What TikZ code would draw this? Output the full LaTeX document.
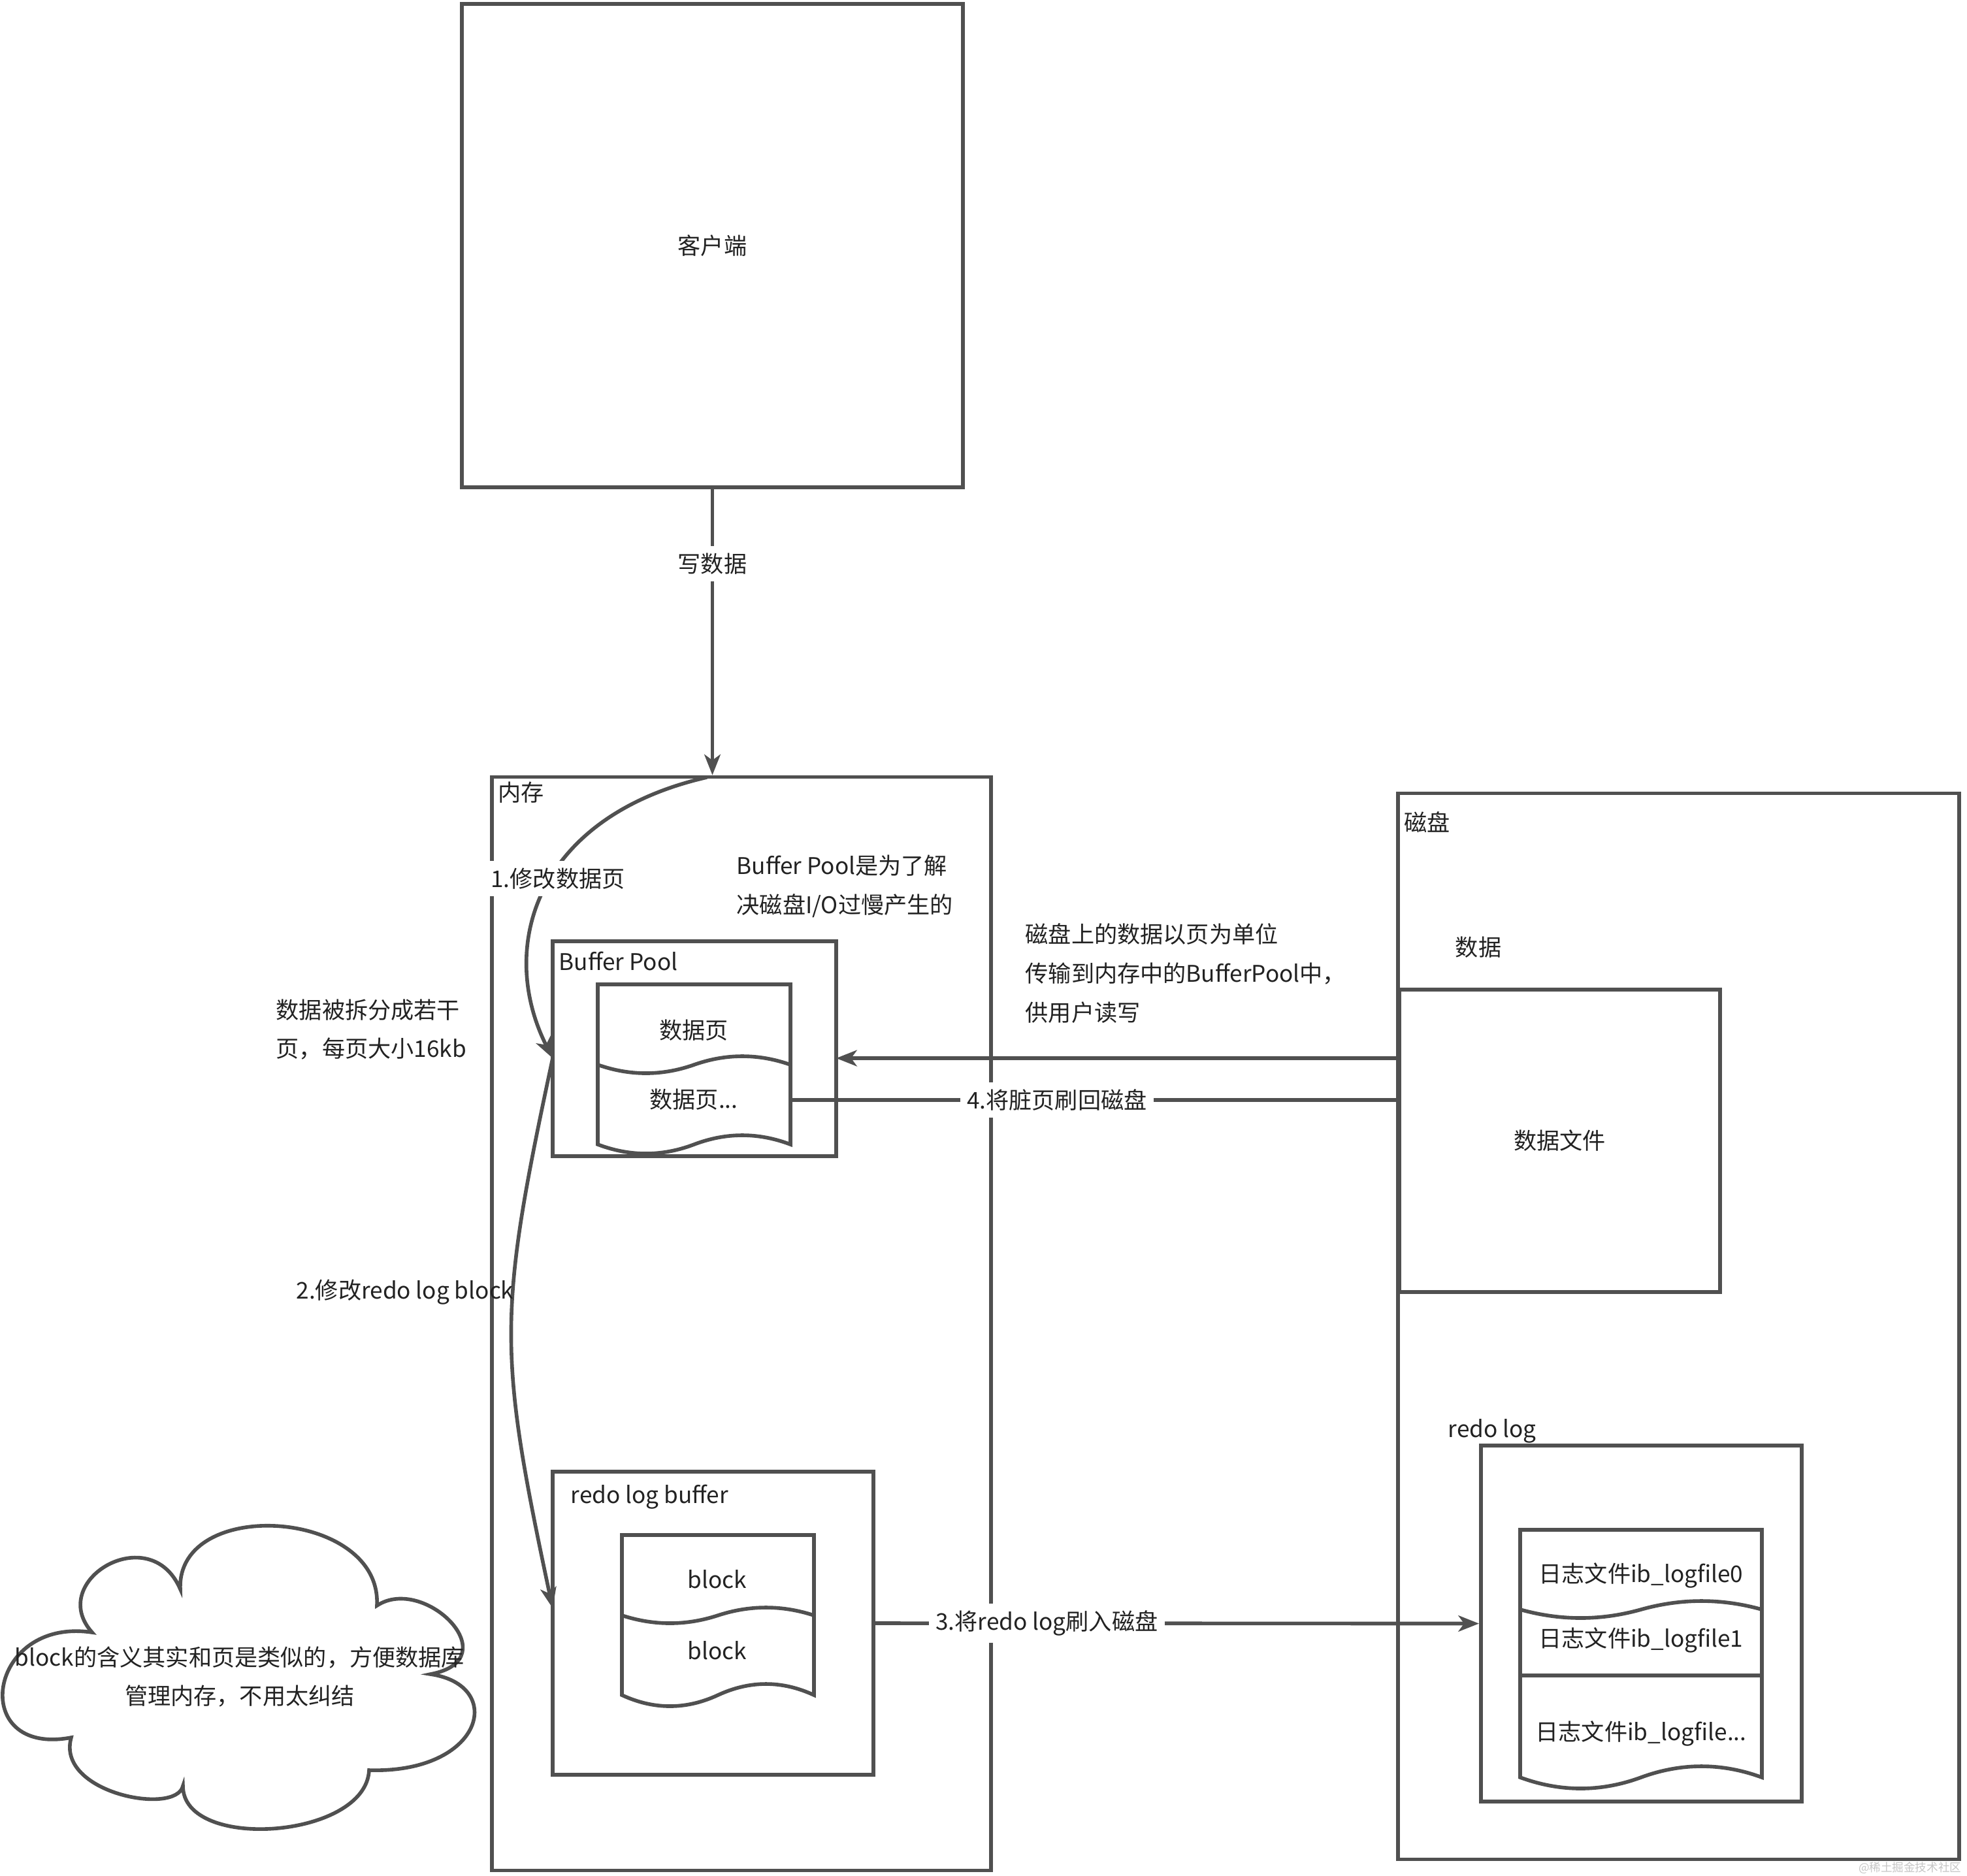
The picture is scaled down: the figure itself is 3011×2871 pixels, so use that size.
\documentclass[tikz,border=0pt]{standalone}
\usepackage{fontspec}
\setmainfont{Noto Sans CJK SC}
\usepackage{tikz}
\usetikzlibrary{arrows.meta}
\usetikzlibrary{positioning}
\usetikzlibrary{calc}
\definecolor{edgegray}{HTML}{505050}
\definecolor{inkgray}{HTML}{222222}
\tikzstyle{box}=[rectangle,draw=edgegray,line width=1.6pt,inner sep=0pt,text=inkgray,font=\fontsize{10pt}{17pt}\selectfont]
\tikzstyle{txt}=[inner sep=0pt,text=inkgray,font=\fontsize{10pt}{17pt}\selectfont]
\tikzstyle{lbl}=[txt,fill=white,inner sep=3pt]
\tikzstyle{conn}=[draw=edgegray,line width=1.6pt]
\tikzstyle{arr}=[conn,-{Stealth[length=9pt,width=7pt,inset=2.5pt]}]
% page shape with a wavy lower edge: left, right, top, wave line, depth
\newcommand*{\docpage}[5]{
\draw[conn,fill=white] (#1,#4) .. controls ({#1+(#2-#1)/6},{#4+4*#5/3}) and ({#1+(#2-#1)/3},{#4+4*#5/3}) .. ({(#1+#2)/2},#4) .. controls ({#1+2*(#2-#1)/3},{#4-4*#5/3}) and ({#1+5*(#2-#1)/6},{#4-4*#5/3}) .. (#2,#4) -- (#2,#3) -- (#1,#3) -- cycle;
}
% wavy divider: left, right, wave line, depth
\newcommand*{\docsplit}[4]{
\draw[conn] (#1,#3) .. controls ({#1+(#2-#1)/6},{#3+4*#4/3}) and ({#1+(#2-#1)/3},{#3+4*#4/3}) .. ({(#1+#2)/2},#3) .. controls ({#1+2*(#2-#1)/3},{#3-4*#4/3}) and ({#1+5*(#2-#1)/6},{#3-4*#4/3}) .. (#2,#3);
}

\begin{document}
\begin{tikzpicture}[x=0.01cm,y=-0.01cm]
\path[use as bounding box,fill=white] (0,0) rectangle (3011,2871);

%client
\node[box, minimum width=7.67cm, minimum height=7.40cm] (client) at (1090.5,376) {客户端};

%memory
\node[box, minimum width=7.64cm, minimum height=16.73cm] (mem) at (1135,2026.5) {};
\node[txt, anchor=west] (memtitle) at (762,1213) {内存};
\node[box, minimum width=4.34cm, minimum height=3.29cm] (bufpool) at (1063,1605.5) {};
\node[txt, anchor=west] (bptitle) at (855,1471) {Buffer Pool};
\node[box, minimum width=4.91cm, minimum height=4.64cm] (redobuf) at (1091.5,2485) {};
\node[txt, anchor=west] (rbtitle) at (873,2292) {redo log buffer};

%disk
\node[box, minimum width=8.59cm, minimum height=16.31cm] (disk) at (2569.5,2030.5) {};
\node[txt, anchor=west] (disktitle) at (2149,1259) {磁盘};
\node[txt] (datatitle) at (2263,1450) {数据};
\node[box, minimum width=4.91cm, minimum height=4.63cm] (datafile) at (2387.5,1746.5) {数据文件};
\node[txt, anchor=west] (rltitle) at (2216,2191) {redo log};
\node[box, minimum width=4.91cm, minimum height=5.45cm] (redolog) at (2512.5,2485.5) {};

%pages
\docpage{915}{1210}{1507}{1752}{14}
\docsplit{915}{1210}{1630}{13}
\node[txt] (page1) at (1062,1577) {数据页};
\node[txt] (page2) at (1062,1683) {数据页...};

%blocks
\docpage{952}{1246}{2350}{2595}{17}
\docsplit{952}{1246}{2473}{12}
\node[txt] (block1) at (1098,2418) {block};
\node[txt] (block2) at (1098,2527) {block};

%log files
\docpage{2327}{2697}{2342}{2721}{17}
\docsplit{2327}{2697}{2464}{13}
\draw[conn] (2327,2565) -- (2697,2565);
\node[txt] (log0) at (2512,2412) {日志文件ib\_logfile0};
\node[txt] (log1) at (2512,2511) {日志文件ib\_logfile1};
\node[txt] (logn) at (2512,2654) {日志文件ib\_logfile...};

%notes
\node[txt, anchor=west, align=left] (bpnote) at (1127,1357) {Buffer Pool是为了解\\决磁盘I/O过慢产生的};
\node[txt, anchor=west, align=left] (splitnote) at (422,1576) {数据被拆分成若干\\页，每页大小16kb};
\node[txt, anchor=west, align=left] (disknote) at (1569,1490) {磁盘上的数据以页为单位\\传输到内存中的BufferPool中，\\供用户读写};

%cloud
\draw[conn,fill=white] (141,2499) .. controls (70,2420) and (230,2325) .. (276,2433)
  .. controls (270,2290) and (585,2310) .. (577,2458)
  .. controls (650,2410) and (780,2540) .. (659,2563)
  .. controls (775,2580) and (740,2715) .. (565,2710)
  .. controls (560,2815) and (280,2835) .. (280,2734)
  .. controls (270,2780) and (85,2745) .. (109,2660)
  .. controls (-50,2690) and (-20,2475) .. (141,2499) -- cycle;
\node[txt, align=center] (cloudnote) at (367,2567) {block的含义其实和页是类似的，方便数据库\\管理内存，不用太纠结};

%connectors
\draw[arr] (client.south) -- node[lbl, pos=0.26] (writelbl) {写数据} (client.south |- mem.north);

\coordinate (c1s) at (1082,1190);
\coordinate (c1e) at (846,1620);
\coordinate (c2e) at (846,2462);
\draw[arr] (c1s) .. controls (820,1250) and (760,1450) .. (c1e);
\node[lbl] (step1) at (854,1345) {1.修改数据页};
\draw[arr] (c1e) .. controls (762,2012) and (762,2068) .. (c2e);
\node[txt] (step2) at (620,1978) {2.修改redo log block};

\coordinate (bpin) at (1280,1620);
\draw[arr] (datafile.west |- bpin) -- (bpin);

\coordinate (pgout) at (1210,1684);
\draw[conn] (pgout) -- node[lbl, pos=0.439] (step4) {4.将脏页刷回磁盘} (datafile.west |- pgout);

\draw[arr] (redobuf.east) -- node[lbl, pos=0.284] (step3) {3.将redo log刷入磁盘} (redolog.west);

%watermark
\node[inner sep=0pt, text=gray!45, font=\fontsize{5pt}{6pt}\selectfont, anchor=south east] (mark) at (3003,2869) {@稀土掘金技术社区};
\end{tikzpicture}
\end{document}
